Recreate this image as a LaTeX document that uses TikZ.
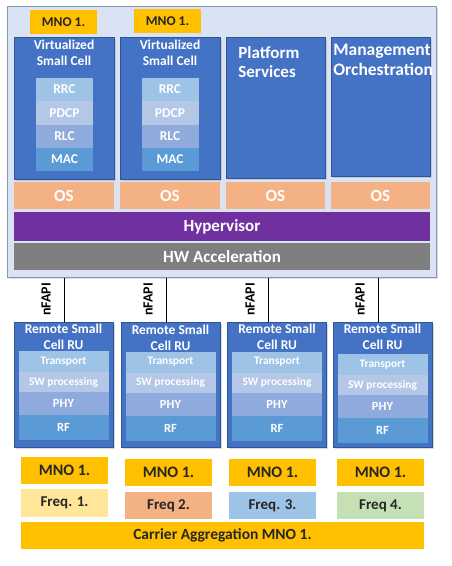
\documentclass[tikz,border=0pt]{standalone}
\usepackage{fontspec}
\setmainfont{Carlito}
\usetikzlibrary{shadows}

\definecolor{panelbg}{HTML}{DAE3F3}
\definecolor{panelline}{HTML}{8497B0}
\definecolor{cellblue}{HTML}{4472C4}
\definecolor{cellline}{HTML}{2F5597}
\definecolor{layerA}{HTML}{9DC3E6}
\definecolor{layerB}{HTML}{B4C7E7}
\definecolor{layerC}{HTML}{8FAADC}
\definecolor{layerD}{HTML}{5B9BD5}
\definecolor{osfill}{HTML}{F4B183}
\definecolor{hyperfill}{HTML}{7030A0}
\definecolor{hwfill}{HTML}{7F7F7F}
\definecolor{mnofill}{HTML}{FFC000}
\definecolor{freqA}{HTML}{FFE699}
\definecolor{freqB}{HTML}{F4B183}
\definecolor{freqC}{HTML}{9DC3E6}
\definecolor{freqD}{HTML}{C5E0B4}

\begin{document}
\begin{tikzpicture}[
    x=1pt, y=-1pt,
    line width=0.8pt,
    every node/.style={rectangle, inner sep=0pt, align=center},
    panel/.style={fill=panelbg, draw=panelline, line width=1pt, minimum width=429, minimum height=271,
      drop shadow={opacity=0.25, shadow xshift=2pt, shadow yshift=-2pt}},
    vcell/.style={fill=cellblue, draw=cellline, minimum width=100, minimum height=142,
      drop shadow={opacity=0.25, shadow xshift=1.5pt, shadow yshift=-1.5pt}},
    ru/.style={fill=cellblue, draw=cellline, minimum width=99, minimum height=125,
      drop shadow={opacity=0.3, shadow xshift=1.5pt, shadow yshift=-1.5pt}},
    wtext/.style={text=white, font=\bfseries\fontsize{13.5}{16}\selectfont},
    btext/.style={text=black!85, font=\bfseries\fontsize{15}{18}\selectfont},
    layer/.style={wtext, minimum width=57, minimum height=23},
    rulayer/.style={wtext, minimum width=90, font=\bfseries\fontsize{11.5}{14}\selectfont},
    os/.style={fill=osfill, wtext, font=\bfseries\fontsize{17}{20}\selectfont, minimum height=27},
    mno/.style={fill=mnofill, btext, minimum width=87, minimum height=27, font=\bfseries\fontsize{16}{19}\selectfont},
    freq/.style={btext, minimum width=87, minimum height=27},
    link/.style={draw=black, line width=1pt},
    tag/.style={rotate=90, anchor=south, inner sep=13pt, font=\bfseries\fontsize{14}{16}\selectfont}
]
  \useasboundingbox (0,0) rectangle (452,566);

  % host
  \node[panel] (host) at (221.5,141.5) {};
  \node[mno, minimum width=67, minimum height=24, font=\bfseries\fontsize{13.5}{16}\selectfont] (mnoA) at (63.5,22) {MNO 1.};
  \node[mno, minimum width=67, minimum height=24, font=\bfseries\fontsize{13.5}{16}\selectfont] (mnoB) at (167.5,21) {MNO 1.};

  \node[vcell] (vscA) at (64,108) {};
  \node[vcell] (vscB) at (170,108) {};
  \node[vcell, minimum width=99, minimum height=141] (plat) at (275.5,107.5) {};
  \node[vcell, minimum width=99, minimum height=139] (mgmt) at (380.5,106.5) {};

  \node[wtext] (vscAtitle) at (64,53) {Virtualized\\Small Cell};
  \node[wtext] (vscBtitle) at (170,53) {Virtualized\\Small Cell};
  \node[wtext, align=left, anchor=west, font=\bfseries\fontsize{17}{19.5}\selectfont] (plattitle) at (238,62) {Platform\\Services};
  \node[wtext, align=left, anchor=west, font=\bfseries\fontsize{17.5}{19.5}\selectfont] (mgmttitle) at (333,60) {Management\\Orchestration};

  \node[layer, fill=layerA] (rrcA) at (64.5,89.5) {RRC};
  \node[layer, fill=layerB, minimum height=24] (pdcpA) at (64.5,113) {PDCP};
  \node[layer, fill=layerC] (rlcA) at (64.5,136.5) {RLC};
  \node[layer, fill=layerD] (macA) at (64.5,159.5) {MAC};
  \node[layer, fill=layerA] (rrcB) at (170,89.5) {RRC};
  \node[layer, fill=layerB, minimum height=24] (pdcpB) at (170,113) {PDCP};
  \node[layer, fill=layerC] (rlcB) at (170,136.5) {RLC};
  \node[layer, fill=layerD] (macB) at (170,159.5) {MAC};

  \node[os, minimum width=100] (osA) at (64,195.5) {OS};
  \node[os, minimum width=100] (osB) at (170,195.5) {OS};
  \node[os, minimum width=99] (osC) at (275.5,195.5) {OS};
  \node[os, minimum width=99] (osD) at (380.5,195.5) {OS};

  \node[wtext, fill=hyperfill, minimum width=416, minimum height=29, font=\bfseries\fontsize{17}{19}\selectfont] (hyper) at (222,226.5) {Hypervisor};
  \node[wtext, fill=hwfill, minimum width=416, minimum height=27, font=\bfseries\fontsize{17}{19}\selectfont] (hw) at (222,256.5) {HW Acceleration};

  % radio units
  \node[ru] (ruA) at (63.5,384.5) {};
  \node[ru] (ruB) at (170.5,384.5) {};
  \node[ru] (ruC) at (277,384.5) {};
  \node[ru] (ruD) at (382.5,384.5) {};

  \node[wtext] (ruAtitle) at (63.5,336.5) {Remote Small\\Cell RU};
  \node[wtext] (ruBtitle) at (170.5,337.5) {Remote Small\\Cell RU};
  \node[wtext] (ruCtitle) at (277,336.5) {Remote Small\\Cell RU};
  \node[wtext] (ruDtitle) at (382.5,336.5) {Remote Small\\Cell RU};

  \node[rulayer, fill=layerA, minimum height=21] (trA) at (63.5,361.5) {Transport};
  \node[rulayer, fill=layerB, minimum height=20] (swA) at (63.5,382) {SW processing};
  \node[rulayer, fill=layerC, minimum height=23, font=\bfseries\fontsize{12.5}{15}\selectfont] (phyA) at (63.5,403.5) {PHY};
  \node[rulayer, fill=layerD, minimum height=25, font=\bfseries\fontsize{12.5}{15}\selectfont] (rfA) at (63.5,427.5) {RF};

  \node[rulayer, fill=layerA, minimum height=21] (trB) at (170.5,362) {Transport};
  \node[rulayer, fill=layerB, minimum height=20] (swB) at (170.5,382.5) {SW processing};
  \node[rulayer, fill=layerC, minimum height=23, font=\bfseries\fontsize{12.5}{15}\selectfont] (phyB) at (170.5,404) {PHY};
  \node[rulayer, fill=layerD, minimum height=25, font=\bfseries\fontsize{12.5}{15}\selectfont] (rfB) at (170.5,428) {RF};

  \node[rulayer, fill=layerA, minimum height=21] (trC) at (277,362) {Transport};
  \node[rulayer, fill=layerB, minimum height=20] (swC) at (277,382.5) {SW processing};
  \node[rulayer, fill=layerC, minimum height=23, font=\bfseries\fontsize{12.5}{15}\selectfont] (phyC) at (277,404) {PHY};
  \node[rulayer, fill=layerD, minimum height=25, font=\bfseries\fontsize{12.5}{15}\selectfont] (rfC) at (277,428) {RF};

  \node[rulayer, fill=layerA, minimum height=21] (trD) at (382.5,364.5) {Transport};
  \node[rulayer, fill=layerB, minimum height=20] (swD) at (382.5,385) {SW processing};
  \node[rulayer, fill=layerC, minimum height=23, font=\bfseries\fontsize{12.5}{15}\selectfont] (phyD) at (382.5,406.5) {PHY};
  \node[rulayer, fill=layerD, minimum height=25, font=\bfseries\fontsize{12.5}{15}\selectfont] (rfD) at (382.5,430.5) {RF};

  % operator and frequencies
  \node[mno] (opA) at (64.5,470.5) {MNO 1.};
  \node[mno] (opB) at (168.5,472.5) {MNO 1.};
  \node[mno] (opC) at (272.5,472.5) {MNO 1.};
  \node[mno] (opD) at (380.5,472.5) {MNO 1.};

  \node[freq, fill=freqA, minimum height=28] (freqOne) at (64.5,503) {Freq. 1.};
  \node[freq, fill=freqB] (freqTwo) at (168.5,505.5) {Freq 2.};
  \node[freq, fill=freqC] (freqThree) at (272.5,505.5) {Freq. 3.};
  \node[freq, fill=freqD] (freqFour) at (380.5,505.5) {Freq 4.};

  \node[mno, minimum width=403, font=\bfseries\fontsize{15.5}{18}\selectfont] (carrier) at (222.5,535.5) {Carrier Aggregation MNO 1.};

  % edges
  \draw[link] ([xshift=0.5pt]ruA.north |- host.south) -- node[tag] {nFAPI} ([xshift=0.5pt]ruA.north);
  \draw[link] ([xshift=-4.5pt]ruB.north |- host.south) -- node[tag] {nFAPI} ([xshift=-4.5pt]ruB.north);
  \draw[link] ([xshift=-9pt]ruC.north |- host.south) -- node[tag] {nFAPI} ([xshift=-9pt]ruC.north);
  \draw[link] ([xshift=-4.5pt]ruD.north |- host.south) -- node[tag] {nFAPI} ([xshift=-4.5pt]ruD.north);
\end{tikzpicture}
\end{document}
